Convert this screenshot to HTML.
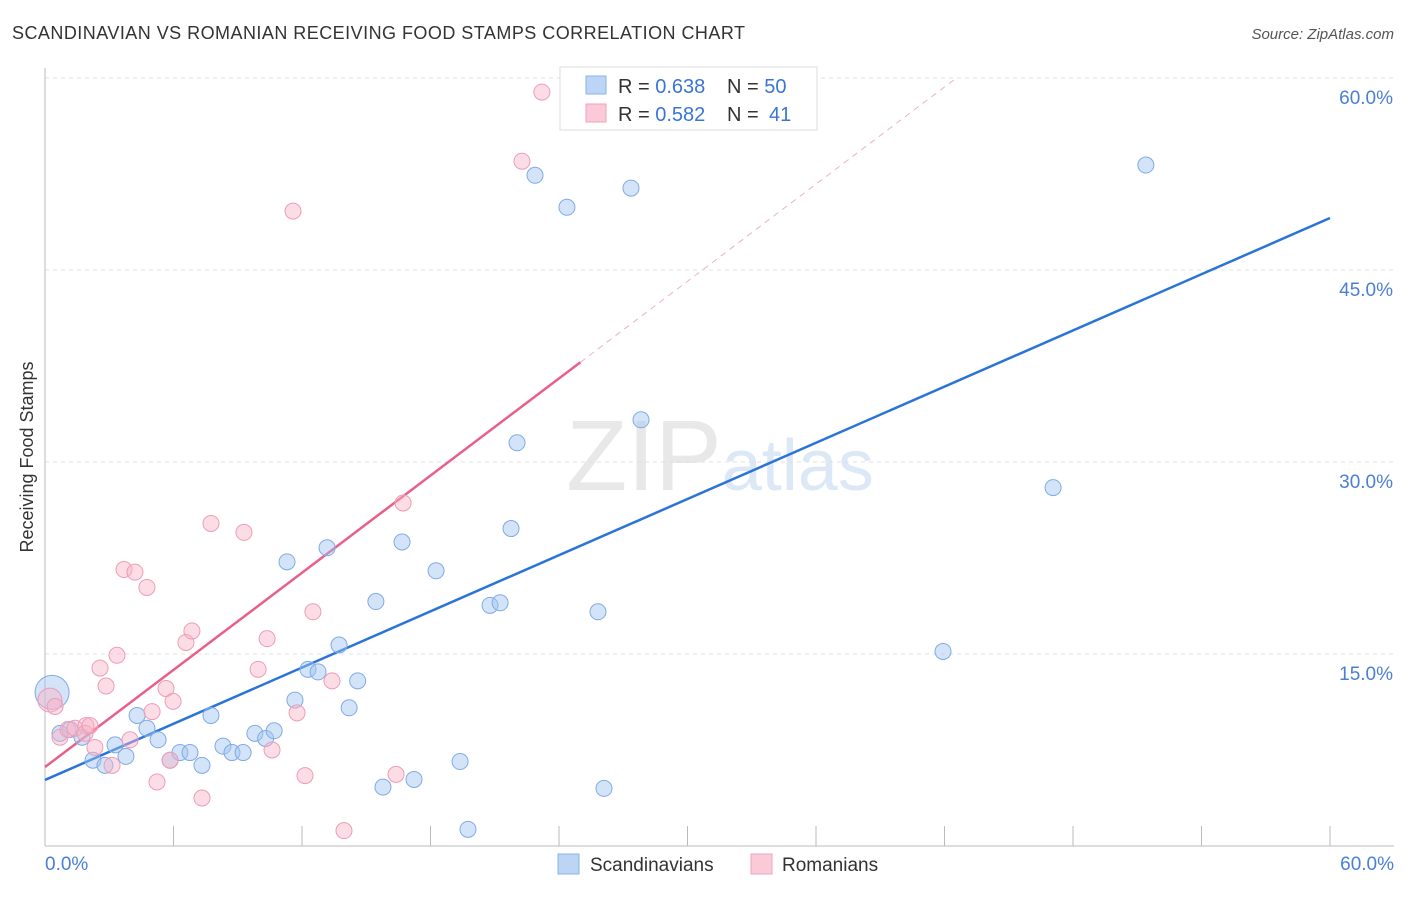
<!DOCTYPE html>
<html><head><meta charset="utf-8"><style>
body{margin:0;background:#fff;font-family:"Liberation Sans",sans-serif;}
svg text{font-family:"Liberation Sans",sans-serif;}
</style></head><body>
<svg id="chart" width="1406" height="892" xmlns="http://www.w3.org/2000/svg">
<text x="12" y="39" font-size="18" fill="#333" textLength="733">SCANDINAVIAN VS ROMANIAN RECEIVING FOOD STAMPS CORRELATION CHART</text>
<text x="1394" y="39" font-size="15" fill="#555" text-anchor="end" font-style="italic">Source: ZipAtlas.com</text>
<text x="720" y="490" font-size="100" text-anchor="middle" fill="#e8e8e8" font-family="Liberation Serif">ZIP<tspan fill="#dde8f6" font-family="Liberation Sans" font-size="72">atlas</tspan></text>
<text transform="translate(33,457) rotate(-90)" font-size="18" fill="#333" text-anchor="middle">Receiving Food Stamps</text>
<g id="grid"></g><g id="axes"></g><g id="lines"></g><g id="pts"></g>
<g>
<rect x="560" y="67" width="257" height="63" fill="#fff" stroke="#ddd"/>
<rect x="586" y="76" width="20" height="18" fill="#bcd5f5" stroke="#8ab4e8"/>
<rect x="586" y="104" width="20" height="18" fill="#fbcad8" stroke="#f0a0bb"/>
<text x="618" y="93" font-size="20" fill="#333">R = <tspan fill="#3a75d6">0.638</tspan><tspan x="727">N = </tspan><tspan fill="#3a75d6">50</tspan></text>
<text x="618" y="121" font-size="20" fill="#333">R = <tspan fill="#3a75d6">0.582</tspan><tspan x="727">N = </tspan><tspan x="769" fill="#3a75d6">41</tspan></text>
</g>
<g>
<rect x="558" y="854" width="21" height="20" fill="#bcd5f5" stroke="#8ab4e8"/>
<text x="590" y="871" font-size="19" fill="#333">Scandinavians</text>
<rect x="751" y="854" width="21" height="20" fill="#fbcad8" stroke="#f0a0bb"/>
<text x="782" y="871" font-size="19" fill="#333">Romanians</text>
</g>
</svg>
<script>
const blueX=[0.33,0.7,1.17,1.73,2.24,2.8,3.27,3.78,4.3,4.76,5.28,5.84,6.3,6.77,7.33,7.75,8.31,8.73,9.25,9.8,10.3,10.7,11.3,11.67,12.28,12.75,13.17,13.73,14.2,14.6,15.45,15.78,16.67,17.23,18.26,19.38,19.75,20.78,21.25,21.76,22.04,22.88,24.37,25.82,26.1,27.36,27.83,41.93,47.07,51.4];
const blueY=[12.0,8.8,9.1,8.5,6.7,6.3,7.9,7.0,10.2,9.2,8.3,6.7,7.3,7.3,6.3,10.2,7.8,7.3,7.3,8.8,8.4,9.0,22.2,11.4,13.8,13.6,23.3,15.7,10.8,12.9,19.1,4.6,23.75,5.2,21.5,6.6,1.3,18.8,19.0,24.8,31.5,52.4,49.9,18.3,4.5,51.4,33.3,15.2,28.0,53.2];
const pinkX=[0.23,0.47,0.7,1.07,1.4,1.91,2.33,2.57,2.85,3.13,3.36,3.69,3.97,4.2,4.76,5.0,5.23,5.65,5.84,5.98,6.58,6.86,7.33,7.75,9.29,9.95,10.37,10.6,11.58,11.77,12.14,12.51,13.4,13.96,16.39,16.72,22.27,23.2,1.87,2.1];
const pinkY=[11.4,10.9,8.5,9.1,9.2,9.4,7.7,13.9,12.5,6.3,14.9,21.6,8.3,21.4,20.2,10.5,5.0,12.3,6.7,11.3,15.9,16.8,3.75,25.2,24.5,13.8,16.2,7.5,49.6,10.4,5.5,18.3,12.9,1.2,5.6,26.8,53.5,58.9,8.8,9.4];
const yTicks=[15,30,45,60];
const yTickLabels=["15.0%","30.0%","45.0%","60.0%"];
const blueFit=[5.16,49.06];
const pinkFit=[6.17,1.265];
const NS="http://www.w3.org/2000/svg";
const X=v=>45+v*21.417, Y=v=>846-v*12.8;
function mk(p,t,a){const e=document.createElementNS(NS,t);for(const k in a)e.setAttribute(k,a[k]);document.getElementById(p).appendChild(e);return e;}
yTicks.forEach((t,i)=>{
 const g=mk('grid','line',{x1:45,x2:1394,y1:Y(t),y2:Y(t),stroke:'#e0e0e0','stroke-dasharray':'4,4'});
 
 
 const tx=mk('axes','text',{x:1393,y:Y(t)+26,'font-size':19,fill:'#4a7fd4','text-anchor':'end'});
 tx.textContent=yTickLabels[i];
 
 
});
let a=mk('axes','line',{x1:45,x2:45,y1:68,y2:846,stroke:'#bbb'});


a=mk('axes','line',{x1:45,x2:1394,y1:846,y2:846,stroke:'#bbb'});


for(let i=0;i<=10;i++){const t=mk('axes','line',{x1:X(i*6),x2:X(i*6),y1:826,y2:846,stroke:'#bbb'});
 
 }
[[0,'0.0%',45,'start'],[60,'60.0%',1394,'end']].forEach(d=>{const t=mk('axes','text',{x:d[2],y:870,'font-size':19,fill:'#4a7fd4','text-anchor':d[3]});t.textContent=d[1];
 
 });
let l=mk('lines','line',{x1:X(0),y1:Y(blueFit[0]),x2:X(60),y2:Y(blueFit[1]),stroke:'#2a74d9','stroke-width':2.5});


l=mk('lines','line',{x1:X(0),y1:Y(pinkFit[0]),x2:X(25),y2:Y(pinkFit[0]+pinkFit[1]*25),stroke:'#e8608a','stroke-width':2.5});


const xe=(60-pinkFit[0])/pinkFit[1];
l=mk('lines','line',{x1:X(25),y1:Y(pinkFit[0]+pinkFit[1]*25),x2:X(xe),y2:Y(60),stroke:'#eeb0c4','stroke-width':1,'stroke-dasharray':'6,5'});


blueX.forEach((v,i)=>{const c=mk('pts','circle',{cx:X(v),cy:Y(blueY[i]),r:i==0?17:8,fill:'rgba(160,195,240,0.45)',stroke:'#7fabe6','stroke-width':1});
 
 });
pinkX.forEach((v,i)=>{const c=mk('pts','circle',{cx:X(v),cy:Y(pinkY[i]),r:i==0?12:8,fill:'rgba(248,180,200,0.45)',stroke:'#ee9cb8','stroke-width':1});
 
 });
</script>
</body></html>
